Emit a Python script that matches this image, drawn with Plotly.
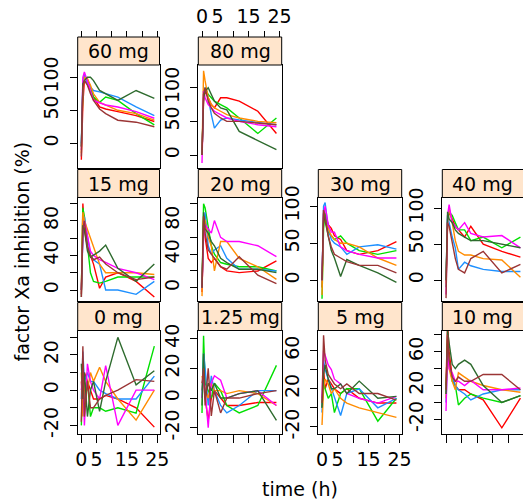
import plotly.graph_objects as go

# ---------------- data ----------------
times = [0, 0.5, 1, 2, 3, 4, 6, 8, 12, 18, 24]
line_colors = ["#FF0000", "#00E000", "#1E90FF", "#FF8C00", "#FF00FF", "#2E6B2E", "#9B3535"]

inh_60mg = [
    [-25, 60, 95, 90, 80, 70, 55, 52, 48, 42, 33],
    [-5, 85, 100, 95, 85, 70, 62, 70, 65, 45, 28],
    [0, 95, 105, 90, 85, 80, 78, 75, 70, 55, 42],
    [-15, 80, 100, 98, 88, 75, 62, 58, 50, 45, 35],
    [-10, 100, 108, 92, 80, 65, 62, 58, 55, 48, 38],
    [-5, 90, 95, 100, 100, 95, 80, 75, 65, 80, 68],
    [-20, 85, 95, 88, 75, 65, 52, 45, 35, 32, 25],
]
inh_80mg = [
    [0, 80, 95, 85, 75, 70, 85, 85, 80, 65, 32],
    [0, 90, 100, 90, 85, 80, 75, 70, 55, 32, 55],
    [0, 95, 100, 85, 60, 40, 52, 55, 52, 48, 45],
    [0, 125, 110, 85, 75, 70, 65, 60, 55, 50, 48],
    [-12, 95, 85, 75, 70, 65, 60, 55, 50, 45, 42],
    [0, 85, 95, 100, 90, 80, 70, 67, 35, 22, 8],
    [0, 90, 100, 80, 70, 62, 55, 50, 50, 48, 45],
]
inh_15mg = [
    [-5, 100, 70, 50, 40, 30, 2, 15, 20, 10, -8],
    [0, 95, 85, 50, 20, 10, 8, 10, 15, 15, 15],
    [0, 60, 85, 60, 40, 35, 30, 0, 0, -5, 10],
    [0, 90, 80, 70, 60, 50, 30, 20, 20, 20, 18],
    [0, 65, 80, 60, 45, 40, 35, 32, 25, 20, 12],
    [-8, 75, 70, 45, 38, 40, 45, 52, 25, 10, 30],
    [-8, 70, 80, 50, 40, 35, 38, 30, 20, 12, 15],
]
inh_20mg = [
    [-5, 80, 60, 35, 30, 35, 25, 20, 18, 20, 32],
    [0, 100, 95, 70, 50, 40, 30, 28, 25, 25, 20],
    [0, 70, 90, 50, 40, 45, 50, 35, 22, 22, 20],
    [-10, 85, 80, 60, 50, 20, 55, 55, 35, 25, 10],
    [0, 60, 75, 70, 65, 80, 60, 55, 55, 50, 37],
    [0, 90, 70, 65, 55, 50, 35, 30, 22, 22, 18],
    [0, 85, 65, 45, 40, 35, 25, 22, 37, 15, 5],
]
inh_30mg = [
    [-10, 95, 90, 75, 70, 60, 55, 40, 35, 40, 52],
    [-25, 70, 90, 65, 60, 55, 60, 50, 40, 35, 40],
    [0, 100, 105, 70, 55, 50, 45, 35, 45, 48, 42],
    [-20, 85, 80, 70, 60, 55, 50, 50, 45, 30, 20],
    [0, 90, 100, 75, 65, 65, 45, 40, 35, 30, 30],
    [0, 90, 80, 60, 40, 30, 5, 28, 20, 10, -3],
    [0, 95, 85, 60, 45, 35, 30, 25, 20, 20, 10],
]
inh_40mg = [
    [0, 80, 95, 85, 75, 70, 60, 75, 50, 40, 32],
    [-10, 85, 95, 90, 80, 70, 70, 55, 60, 45, 60],
    [0, 90, 80, 60, 45, 15, 25, 20, 15, 12, 12],
    [-5, 80, 100, 80, 55, 40, 35, 35, 30, 28, 4],
    [-20, 90, 105, 80, 75, 70, 80, 65, 60, 62, 45],
    [0, 95, 85, 80, 70, 65, 60, 55, 55, 50, 45],
    [-25, 80, 75, 50, 30, 15, 10, 30, 40, 10, 22],
]
inh_0mg = [
    [5, -10, 10, 5, 0, -5, -5, -3, -5, -10, -21],
    [-20, 15, -10, 5, -15, -10, -10, -12, -10, -13, 25],
    [-5, 22, 5, 10, 5, 5, 0, -2, -5, -5, 8],
    [10, -15, 5, 0, 10, 5, 13, 5, -5, -17, 0],
    [0, 10, -20, 15, 5, 0, -5, 14, -20, 0, 0],
    [15, -5, 10, -15, 0, 5, -12, 5, 30, 3, 11],
    [-18, 25, -15, 5, -10, -10, -5, -3, 0, 6, 5],
]
inh_1_25mg = [
    [5, 20, 0, -15, 0, 5, 0, -5, -5, -3, -3],
    [-10, 42, 10, 5, 0, 10, 5, -5, -10, -5, 22],
    [0, 30, 20, -5, 15, 5, -5, -10, -5, 5, 5],
    [15, 10, 5, 0, 10, 5, 5, 3, 5, 3, -5],
    [0, 15, 5, -20, 10, 15, 12, 0, 3, 5, -5],
    [-5, 30, 0, 10, 5, 10, 0, 0, 3, 5, -15],
    [10, 20, -5, 20, -12, 5, -10, 0, 0, 3, 5],
]
inh_5mg = [
    [0, 40, 20, 30, 25, 20, 15, 20, 10, 5, 5],
    [0, 30, 20, 10, 15, -5, 15, 20, 20, -14, 10],
    [-5, 50, 40, 30, 20, 10, -8, 15, 20, 0, 10],
    [-18, 20, 30, 25, 15, 20, 10, 5, 0, -5, -10],
    [10, 60, 55, 45, 40, 30, 25, 15, 10, 5, 12],
    [0, 35, 45, 30, 20, 20, 25, 15, 28, 10, 12],
    [5, 76, 50, 35, 30, 25, 20, 25, 15, 15, 8],
]
inh_10mg = [
    [20, 95, 60, 30, 20, 15, 15, 10, 3, -30, 5],
    [10, 70, 50, 25, 20, -3, 5, 10, 5, 0, 8],
    [0, 60, 45, 30, 20, 15, 10, 3, 10, 15, 15],
    [5, 75, 40, 25, 15, 35, 30, 25, 20, 15, 12],
    [-10, 60, 40, 35, 25, 25, 20, 26, 15, 15, 17],
    [10, 85, 70, 45, 40, 45, 50, 45, 20, 0, 8],
    [15, 80, 50, 30, 25, 30, 25, 25, 33, 33, 15],
]

x_ticks = [0, 5, 10, 15, 20, 25]
x_ticklabels = ["0", "5", "", "15", "", "25"]

# (strip label, row, col, data, y range, y tick values, y tick labels)
panels = [
    ("60 mg", 0, 0, inh_60mg, [-37.4, 118.6], [0, 50, 100], ["0", "50", "100"]),
    ("80 mg", 0, 1, inh_80mg, [-19.3, 133.7], [0, 50, 100], ["0", "50", "100"]),
    ("15 mg", 1, 0, inh_15mg, [-12.7, 107], [0, 20, 40, 60, 80, 100], ["0", "", "40", "", "80", ""]),
    ("20 mg", 1, 1, inh_20mg, [-15.8, 107.5], [0, 20, 40, 60, 80, 100], ["0", "", "40", "", "80", ""]),
    ("30 mg", 1, 2, inh_30mg, [-28.1, 111.8], [0, 50, 100], ["0", "50", "100"]),
    ("40 mg", 1, 3, inh_40mg, [-29, 115], [0, 50, 100], ["0", "50", "100"]),
    ("0 mg", 2, 0, inh_0mg, [-24.9, 33.9], [-20, -10, 0, 10, 20, 30], ["-20", "", "0", "", "20", ""]),
    ("1.25 mg", 2, 1, inh_1_25mg, [-24.2, 45.5], [-20, 0, 20, 40], ["-20", "0", "20", "40"]),
    ("5 mg", 2, 2, inh_5mg, [-27.4, 81], [-20, 0, 20, 40, 60], ["-20", "", "20", "", "60"]),
    ("10 mg", 2, 3, inh_10mg, [-37.3, 85], [-20, 0, 20, 40, 60, 80], ["-20", "", "20", "", "60", ""]),
]

# ---------------- layout geometry (pixels) ----------------
W, H = 523, 501
col_px = [(77.7, 159.5), (198.3, 281.7), (318.3, 401.7), (442.3, 523.0)]
row_px = [(37, 65, 168), (169.5, 197.5, 301), (302.5, 330.5, 434)]
x_range_full = [-1.2, 25.7]
x_range_clip = [-1.2, 24.83]

FONT = "DejaVu Sans"
FS = 19

fig = go.Figure()
layout = dict(
    width=W, height=H,
    margin=dict(l=0, r=0, t=0, b=0, pad=0),
    paper_bgcolor="white", plot_bgcolor="rgba(0,0,0,0)",
    showlegend=False,
    font=dict(family=FONT, size=FS, color="black"),
    template="none",
)
shapes = []
annotations = []

for k, (label, r, c, data, yr, yt, ytl) in enumerate(panels, start=1):
    xs = "x" if k == 1 else f"x{k}"
    ys = "y" if k == 1 else f"y{k}"
    for j, vals in enumerate(data):
        fig.add_trace(go.Scatter(
            x=times, y=vals, mode="lines",
            line=dict(color=line_colors[j % len(line_colors)], width=1.4),
            xaxis=xs, yaxis=ys, hoverinfo="skip"))
    cx0, cx1 = col_px[c]
    st, pt, pb = row_px[r]
    xr = x_range_clip if c == 3 else x_range_full
    bottom_row = (r == 2)
    xa = dict(
        domain=[cx0 / W, cx1 / W], range=xr, anchor=ys,
        showline=True, linecolor="black", linewidth=1, mirror=True,
        showgrid=False, zeroline=False,
        tickfont=dict(family=FONT, size=FS, color="black"),
    )
    if bottom_row:
        xa.update(ticks="outside", ticklen=8, tickwidth=1, tickcolor="black",
                  tickvals=x_ticks,
                  ticktext=x_ticklabels if c in (0, 2) else [""] * len(x_ticks))
    else:
        xa.update(ticks="", showticklabels=False)
    ya = dict(
        domain=[1 - pb / H, 1 - pt / H], range=yr, anchor=xs,
        showline=True, linecolor="black", linewidth=1, mirror=(c != 3),
        showgrid=False, zeroline=False,
        ticks="outside", ticklen=7, tickwidth=1, tickcolor="black",
        tickvals=yt, ticktext=ytl, tickangle=-90, ticklabelstandoff=4,
        tickfont=dict(family=FONT, size=FS, color="black"),
    )
    layout["xaxis" if k == 1 else f"xaxis{k}"] = xa
    layout["yaxis" if k == 1 else f"yaxis{k}"] = ya

    # top tick axis above strips of the top row
    if r == 0:
        kt = 10 + k
        layout[f"xaxis{kt}"] = dict(
            overlaying=xs, anchor="free", position=1 - st / H, side="top",
            range=xr, showline=False, showgrid=False, zeroline=False,
            ticks="outside", ticklen=6, tickwidth=1, tickcolor="black",
            tickvals=x_ticks,
            ticktext=x_ticklabels if c == 1 else [""] * len(x_ticks),
            tickfont=dict(family=FONT, size=FS, color="black"),
        )
        fig.add_trace(go.Scatter(x=[None], y=[None], xaxis=f"x{kt}", yaxis=ys,
                                 mode="lines", hoverinfo="skip"))

    # strip
    sx1 = 527 if c == 3 else cx1
    shapes.append(dict(type="rect", xref="paper", yref="paper",
                       x0=cx0 / W, x1=sx1 / W, y0=1 - pt / H, y1=1 - st / H,
                       fillcolor="#ffe5cc", line=dict(color="black", width=1),
                       layer="above"))
    annotations.append(dict(text=label, xref="paper", yref="paper",
                            x=(cx0 + cx1) / 2 / W, y=1 - (st + pt) / 2 / H,
                            xanchor="center", yanchor="middle", showarrow=False,
                            font=dict(family=FONT, size=FS, color="black")))

annotations.append(dict(text="time (h)", xref="paper", yref="paper",
                        x=300 / W, y=1 - 489 / H, xanchor="center", yanchor="middle",
                        showarrow=False, font=dict(family=FONT, size=FS, color="black")))
annotations.append(dict(text="factor Xa inhibition (%)", xref="paper", yref="paper",
                        x=21.5 / W, y=1 - 252 / H, xanchor="center", yanchor="middle",
                        textangle=-90, showarrow=False,
                        font=dict(family=FONT, size=FS, color="black")))

layout["shapes"] = shapes
layout["annotations"] = annotations
fig.update_layout(**layout)
fig.write_html("out.html")
